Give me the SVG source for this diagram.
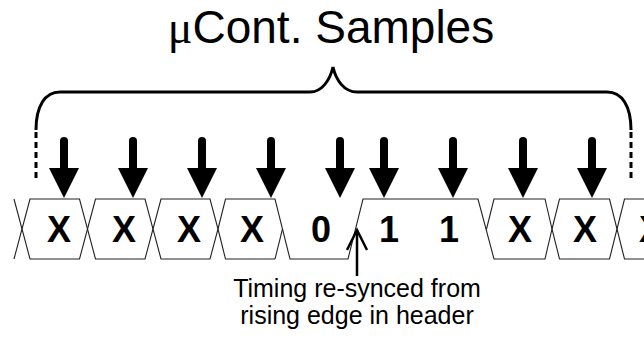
<svg xmlns="http://www.w3.org/2000/svg" width="644" height="345" viewBox="0 0 644 345">
<style>
.wave{fill:none;stroke:#222;stroke-width:1.1;stroke-linejoin:miter}
.brace{fill:none;stroke:#000;stroke-width:3;stroke-linecap:butt}
.dash{fill:none;stroke:#000;stroke-width:3;stroke-dasharray:6 4}
.shaft{stroke:#000;stroke-width:8;stroke-linecap:round}
.bit{font-family:"Liberation Sans",Arial,sans-serif;font-weight:bold;font-size:36px;text-anchor:middle;fill:#000}
.note{font-family:"Liberation Sans",Arial,sans-serif;font-size:25px;text-anchor:middle;fill:#000}
.title{font-family:"Liberation Sans",Arial,sans-serif;font-size:46px;text-anchor:middle;fill:#000}
</style>
<defs>
<g id="samp">
<line class="shaft" x1="0" y1="141" x2="0" y2="170"/>
<polygon points="-15,168 15,168 0,198" fill="#000"/>
</g>
</defs>
<g id="title"><text class="title" x="331" y="43"><tspan font-family="Liberation Serif,serif">μ</tspan>Cont. Samples</text></g>
<g id="brace">
<path class="brace" d="M36,130 C36,106 45,92 60,92 L310,92 C322,92 330,80 333,67 C336,80 344,92 357,92 L607,92 C622,92 631,106 631,130"/>
<line class="dash" x1="36" y1="132" x2="36" y2="182"/>
<line class="dash" x1="631" y1="132" x2="631" y2="182"/>
</g>
<g id="samples">
<use href="#samp" x="64"/>
<use href="#samp" x="133"/>
<use href="#samp" x="202"/>
<use href="#samp" x="271"/>
<use href="#samp" x="340"/>
<use href="#samp" x="384"/>
<use href="#samp" x="453"/>
<use href="#samp" x="523"/>
<use href="#samp" x="592"/>
</g>
<g id="waveform">
<polyline class="wave" points="14,199 22,229 14,259"/>
<polygon class="wave" points="22,229 30,199 79.5,199 87.5,229 79.5,259 30,259"/>
<polygon class="wave" points="87.5,229 95.5,199 145,199 153,229 145,259 95.5,259"/>
<polygon class="wave" points="153,229 161,199 210,199 218,229 210,259 161,259"/>
<polyline class="wave" points="275,259 282.5,229"/>
<polyline class="wave" points="218,229 225.5,199 275,199 290,259 348,259 363,199 478,199 494,259 545,259 552,229 545,199 494,199 486.5,229"/>
<polyline class="wave" points="218,229 225.5,259 275,259"/>
<polygon class="wave" points="552,229 559.5,199 609.5,199 617,229 609.5,259 559.5,259"/>
<polyline class="wave" points="650,199 624.5,199 617,229 624.5,259 650,259"/>
</g>
<g id="bits">
<text class="bit" x="59" y="242">X</text>
<text class="bit" x="124" y="242">X</text>
<text class="bit" x="189" y="242">X</text>
<text class="bit" x="252" y="242">X</text>
<text class="bit" x="321" y="242">0</text>
<text class="bit" x="389" y="242">1</text>
<text class="bit" x="449" y="242">1</text>
<text class="bit" x="520" y="242">X</text>
<text class="bit" x="585" y="242">X</text>
<text class="bit" x="651" y="242">X</text>
</g>
<g id="resync">
<line x1="357" y1="230" x2="357" y2="276" stroke="#000" stroke-width="2.5"/>
<polyline points="347,250 357,230 367,250" fill="none" stroke="#000" stroke-width="2.5"/>
<text class="note" x="357" y="297">Timing re-synced from</text>
<text class="note" x="357" y="324">rising edge in header</text>
</g>
</svg>
